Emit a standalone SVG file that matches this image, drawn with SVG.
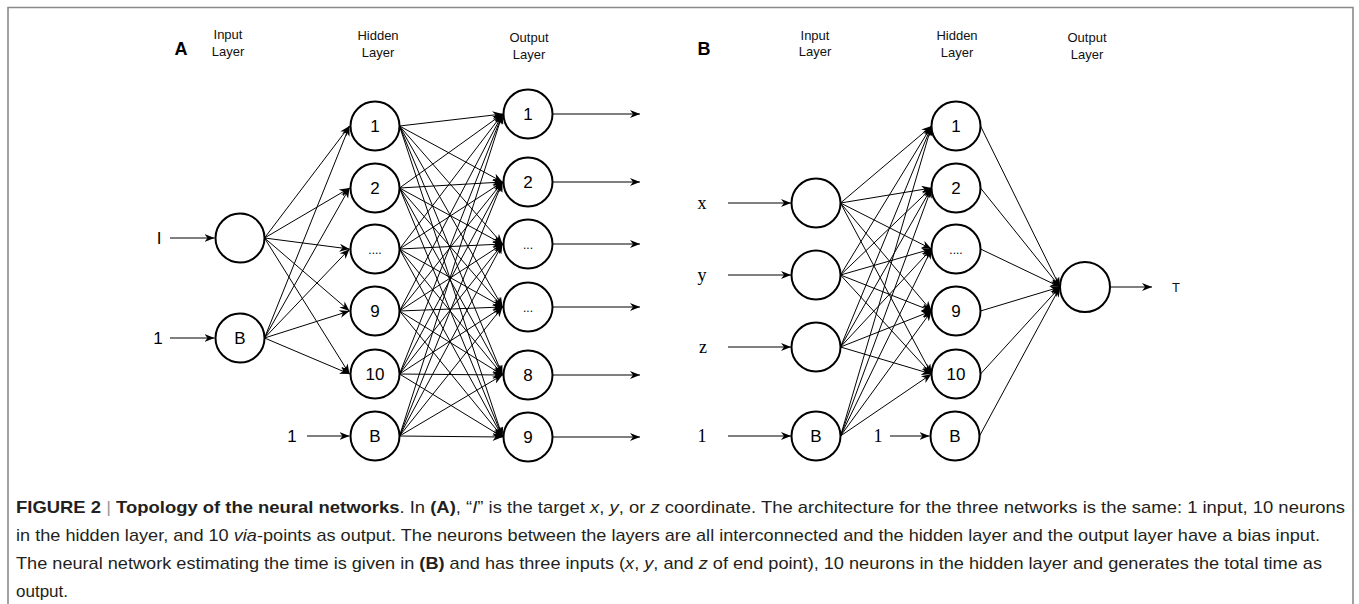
<svg xmlns="http://www.w3.org/2000/svg" width="1359" height="604" viewBox="0 0 1359 604">
<style>
.frame{fill:none;stroke:#8a8a8a;stroke-width:1.6}
.node circle{fill:#fff;stroke:#000;stroke-width:2}
.nt{font-family:"Liberation Sans",Arial,sans-serif;font-size:17px;fill:#000;text-anchor:middle}
.dots{font-family:"Liberation Sans",Arial,sans-serif;font-size:12px;fill:#000;text-anchor:middle}
.hdr{font-family:"Liberation Sans",Arial,sans-serif;font-size:13px;fill:#111;text-anchor:middle}
.pl{font-family:"Liberation Sans",Arial,sans-serif;font-size:18px;font-weight:bold;fill:#000;text-anchor:middle}
.lab{font-family:"Liberation Sans",Arial,sans-serif;font-size:17px;fill:#000;text-anchor:middle}
.ser{font-family:"Liberation Serif","Times New Roman",serif;font-size:18px;fill:#000;text-anchor:middle}
.conn line{stroke:#000;stroke-width:1;marker-end:url(#ah)}
.cap{font-family:"Liberation Sans",Arial,sans-serif;font-size:17px;fill:#231f20}
.b{font-weight:bold}
.i{font-style:italic}
</style>
<defs>
<marker id="ah" viewBox="0 0 10 8" refX="10" refY="4" markerWidth="10" markerHeight="8" markerUnits="userSpaceOnUse" orient="auto">
<path d="M0,0 L10,4 L0,8 L3,4 z" fill="#000"/>
</marker>
</defs>
<rect width="1359" height="604" fill="#fff"/>
<path class="frame" d="M8,610 L8,7.5 L1353,7.5 L1353,610"/>

<!-- Panel A headers -->
<text class="pl" x="181" y="55">A</text>
<text class="hdr" x="228" y="39">Input</text><text class="hdr" x="228" y="56">Layer</text>
<text class="hdr" x="378" y="40">Hidden</text><text class="hdr" x="378" y="57">Layer</text>
<text class="hdr" x="529" y="42">Output</text><text class="hdr" x="529" y="59">Layer</text>

<!-- Panel B headers -->
<text class="pl" x="704" y="55">B</text>
<text class="hdr" x="815" y="40">Input</text><text class="hdr" x="815" y="56">Layer</text>
<text class="hdr" x="957" y="40">Hidden</text><text class="hdr" x="957" y="57">Layer</text>
<text class="hdr" x="1087" y="42">Output</text><text class="hdr" x="1087" y="59">Layer</text>

<!-- Input labels -->
<text class="lab" x="159" y="244">I</text>
<text class="lab" x="158" y="344">1</text>
<text class="lab" x="292" y="442">1</text>
<text class="ser" x="702" y="209">x</text>
<text class="ser" x="702" y="281">y</text>
<text class="ser" x="703" y="353">z</text>
<text class="ser" x="702" y="442">1</text>
<text class="ser" x="878" y="442">1</text>
<text class="hdr" x="1176" y="292">T</text>

<g id="connectors" class="conn">
<!-- A: inputs and biases -->
<line x1="170" y1="238" x2="214.5" y2="238"/>
<line x1="170" y1="338" x2="214.5" y2="338"/>
<line x1="307" y1="436" x2="349.5" y2="436"/>
<!-- A: input I to hidden -->
<line x1="264.5" y1="238" x2="349.5" y2="126"/>
<line x1="264.5" y1="238" x2="349.5" y2="188"/>
<line x1="264.5" y1="238" x2="349.5" y2="249"/>
<line x1="264.5" y1="238" x2="349.5" y2="311"/>
<line x1="264.5" y1="238" x2="349.5" y2="374"/>
<!-- A: bias B to hidden -->
<line x1="264.5" y1="338" x2="349.5" y2="126"/>
<line x1="264.5" y1="338" x2="349.5" y2="188"/>
<line x1="264.5" y1="338" x2="349.5" y2="249"/>
<line x1="264.5" y1="338" x2="349.5" y2="311"/>
<line x1="264.5" y1="338" x2="349.5" y2="374"/>
<!-- A: hidden to output -->
<line x1="399.5" y1="126" x2="502.5" y2="114"/>
<line x1="399.5" y1="126" x2="502.5" y2="182"/>
<line x1="399.5" y1="126" x2="502.5" y2="244"/>
<line x1="399.5" y1="126" x2="502.5" y2="307"/>
<line x1="399.5" y1="126" x2="502.5" y2="375"/>
<line x1="399.5" y1="126" x2="502.5" y2="437"/>
<line x1="399.5" y1="188" x2="502.5" y2="114"/>
<line x1="399.5" y1="188" x2="502.5" y2="182"/>
<line x1="399.5" y1="188" x2="502.5" y2="244"/>
<line x1="399.5" y1="188" x2="502.5" y2="307"/>
<line x1="399.5" y1="188" x2="502.5" y2="375"/>
<line x1="399.5" y1="188" x2="502.5" y2="437"/>
<line x1="399.5" y1="249" x2="502.5" y2="114"/>
<line x1="399.5" y1="249" x2="502.5" y2="182"/>
<line x1="399.5" y1="249" x2="502.5" y2="244"/>
<line x1="399.5" y1="249" x2="502.5" y2="307"/>
<line x1="399.5" y1="249" x2="502.5" y2="375"/>
<line x1="399.5" y1="249" x2="502.5" y2="437"/>
<line x1="399.5" y1="311" x2="502.5" y2="114"/>
<line x1="399.5" y1="311" x2="502.5" y2="182"/>
<line x1="399.5" y1="311" x2="502.5" y2="244"/>
<line x1="399.5" y1="311" x2="502.5" y2="307"/>
<line x1="399.5" y1="311" x2="502.5" y2="375"/>
<line x1="399.5" y1="311" x2="502.5" y2="437"/>
<line x1="399.5" y1="374" x2="502.5" y2="114"/>
<line x1="399.5" y1="374" x2="502.5" y2="182"/>
<line x1="399.5" y1="374" x2="502.5" y2="244"/>
<line x1="399.5" y1="374" x2="502.5" y2="307"/>
<line x1="399.5" y1="374" x2="502.5" y2="375"/>
<line x1="399.5" y1="374" x2="502.5" y2="437"/>
<line x1="399.5" y1="436" x2="502.5" y2="114"/>
<line x1="399.5" y1="436" x2="502.5" y2="182"/>
<line x1="399.5" y1="436" x2="502.5" y2="244"/>
<line x1="399.5" y1="436" x2="502.5" y2="307"/>
<line x1="399.5" y1="436" x2="502.5" y2="375"/>
<line x1="399.5" y1="436" x2="502.5" y2="437"/>
<!-- A: outputs -->
<line x1="552.5" y1="114" x2="640" y2="114"/>
<line x1="552.5" y1="182" x2="640" y2="182"/>
<line x1="552.5" y1="244" x2="640" y2="244"/>
<line x1="552.5" y1="307" x2="640" y2="307"/>
<line x1="552.5" y1="375" x2="640" y2="375"/>
<line x1="552.5" y1="437" x2="640" y2="437"/>

<!-- B: inputs -->
<line x1="728" y1="203" x2="791" y2="203"/>
<line x1="728" y1="275" x2="791" y2="275"/>
<line x1="728" y1="347" x2="791" y2="347"/>
<line x1="728" y1="436" x2="791" y2="436"/>
<line x1="890" y1="436" x2="929.5" y2="436"/>
<!-- B: input layer to hidden -->
<line x1="840.5" y1="203" x2="931.5" y2="126"/>
<line x1="840.5" y1="203" x2="931.5" y2="188"/>
<line x1="840.5" y1="203" x2="931.5" y2="249"/>
<line x1="840.5" y1="203" x2="931.5" y2="311"/>
<line x1="840.5" y1="203" x2="931.5" y2="374"/>
<line x1="840.5" y1="275" x2="931.5" y2="126"/>
<line x1="840.5" y1="275" x2="931.5" y2="188"/>
<line x1="840.5" y1="275" x2="931.5" y2="249"/>
<line x1="840.5" y1="275" x2="931.5" y2="311"/>
<line x1="840.5" y1="275" x2="931.5" y2="374"/>
<line x1="840.5" y1="347" x2="931.5" y2="126"/>
<line x1="840.5" y1="347" x2="931.5" y2="188"/>
<line x1="840.5" y1="347" x2="931.5" y2="249"/>
<line x1="840.5" y1="347" x2="931.5" y2="311"/>
<line x1="840.5" y1="347" x2="931.5" y2="374"/>
<line x1="840.5" y1="436" x2="931.5" y2="126"/>
<line x1="840.5" y1="436" x2="931.5" y2="188"/>
<line x1="840.5" y1="436" x2="931.5" y2="249"/>
<line x1="840.5" y1="436" x2="931.5" y2="311"/>
<line x1="840.5" y1="436" x2="931.5" y2="374"/>
<!-- B: hidden to output -->
<line x1="980.5" y1="126" x2="1060" y2="287"/>
<line x1="980.5" y1="188" x2="1060" y2="287"/>
<line x1="980.5" y1="249" x2="1060" y2="287"/>
<line x1="980.5" y1="311" x2="1060" y2="287"/>
<line x1="980.5" y1="374" x2="1060" y2="287"/>
<line x1="979.5" y1="436" x2="1060" y2="287"/>
<line x1="1110" y1="287" x2="1152" y2="287"/>
</g>

<!-- Panel A nodes -->
<g id="a-in" class="node"><circle cx="240" cy="238" r="24.5"/></g>
<g id="a-inB" class="node"><circle cx="240" cy="338" r="24.5"/><text class="nt" x="240" y="344">B</text></g>
<g id="a-h1" class="node"><circle cx="375" cy="126" r="24.5"/><text class="nt" x="375" y="132">1</text></g>
<g id="a-h2" class="node"><circle cx="375" cy="188" r="24.5"/><text class="nt" x="375" y="194">2</text></g>
<g id="a-h3" class="node"><circle cx="375" cy="249" r="24.5"/><text class="dots" x="375" y="254">....</text></g>
<g id="a-h9" class="node"><circle cx="375" cy="311" r="24.5"/><text class="nt" x="375" y="317">9</text></g>
<g id="a-h10" class="node"><circle cx="375" cy="374" r="24.5"/><text class="nt" x="375" y="380">10</text></g>
<g id="a-hB" class="node"><circle cx="375" cy="436" r="24.5"/><text class="nt" x="375" y="442">B</text></g>
<g id="a-o1" class="node"><circle cx="528" cy="114" r="24.5"/><text class="nt" x="528" y="120">1</text></g>
<g id="a-o2" class="node"><circle cx="528" cy="182" r="24.5"/><text class="nt" x="528" y="188">2</text></g>
<g id="a-o3" class="node"><circle cx="528" cy="244" r="24.5"/><text class="dots" x="528" y="249">...</text></g>
<g id="a-o4" class="node"><circle cx="528" cy="307" r="24.5"/><text class="dots" x="528" y="312">...</text></g>
<g id="a-o8" class="node"><circle cx="528" cy="375" r="24.5"/><text class="nt" x="528" y="381">8</text></g>
<g id="a-o9" class="node"><circle cx="528" cy="437" r="24.5"/><text class="nt" x="528" y="443">9</text></g>

<!-- Panel B nodes -->
<g id="b-ix" class="node"><circle cx="816" cy="203" r="24.5"/></g>
<g id="b-iy" class="node"><circle cx="816" cy="275" r="24.5"/></g>
<g id="b-iz" class="node"><circle cx="816" cy="347" r="24.5"/></g>
<g id="b-iB" class="node"><circle cx="816" cy="436" r="24.5"/><text class="nt" x="816" y="442">B</text></g>
<g id="b-h1" class="node"><circle cx="956" cy="126" r="24.5"/><text class="nt" x="956" y="132">1</text></g>
<g id="b-h2" class="node"><circle cx="956" cy="188" r="24.5"/><text class="nt" x="956" y="194">2</text></g>
<g id="b-h3" class="node"><circle cx="956" cy="249" r="24.5"/><text class="dots" x="956" y="254">....</text></g>
<g id="b-h9" class="node"><circle cx="956" cy="311" r="24.5"/><text class="nt" x="956" y="317">9</text></g>
<g id="b-h10" class="node"><circle cx="956" cy="374" r="24.5"/><text class="nt" x="956" y="380">10</text></g>
<g id="b-hB" class="node"><circle cx="955" cy="436" r="24.5"/><text class="nt" x="955" y="442">B</text></g>
<g id="b-out" class="node"><circle cx="1085" cy="287" r="25"/></g>

<!-- Caption -->
<text class="cap" x="16" y="513" textLength="1329" lengthAdjust="spacingAndGlyphs"><tspan class="b">FIGURE 2</tspan> <tspan fill="#999">|</tspan> <tspan class="b">Topology of the neural networks</tspan>. In <tspan class="b">(A)</tspan>, “<tspan class="i">I</tspan>” is the target <tspan class="i">x</tspan>, <tspan class="i">y</tspan>, or <tspan class="i">z</tspan> coordinate. The architecture for the three networks is the same: 1 input, 10 neurons</text>
<text class="cap" x="16" y="541" textLength="1304" lengthAdjust="spacingAndGlyphs">in the hidden layer, and 10 <tspan class="i">via</tspan>-points as output. The neurons between the layers are all interconnected and the hidden layer and the output layer have a bias input.</text>
<text class="cap" x="16" y="569" textLength="1306" lengthAdjust="spacingAndGlyphs">The neural network estimating the time is given in <tspan class="b">(B)</tspan> and has three inputs (<tspan class="i">x</tspan>, <tspan class="i">y</tspan>, and <tspan class="i">z</tspan> of end point), 10 neurons in the hidden layer and generates the total time as</text>
<text class="cap" x="16" y="597">output.</text>
</svg>
